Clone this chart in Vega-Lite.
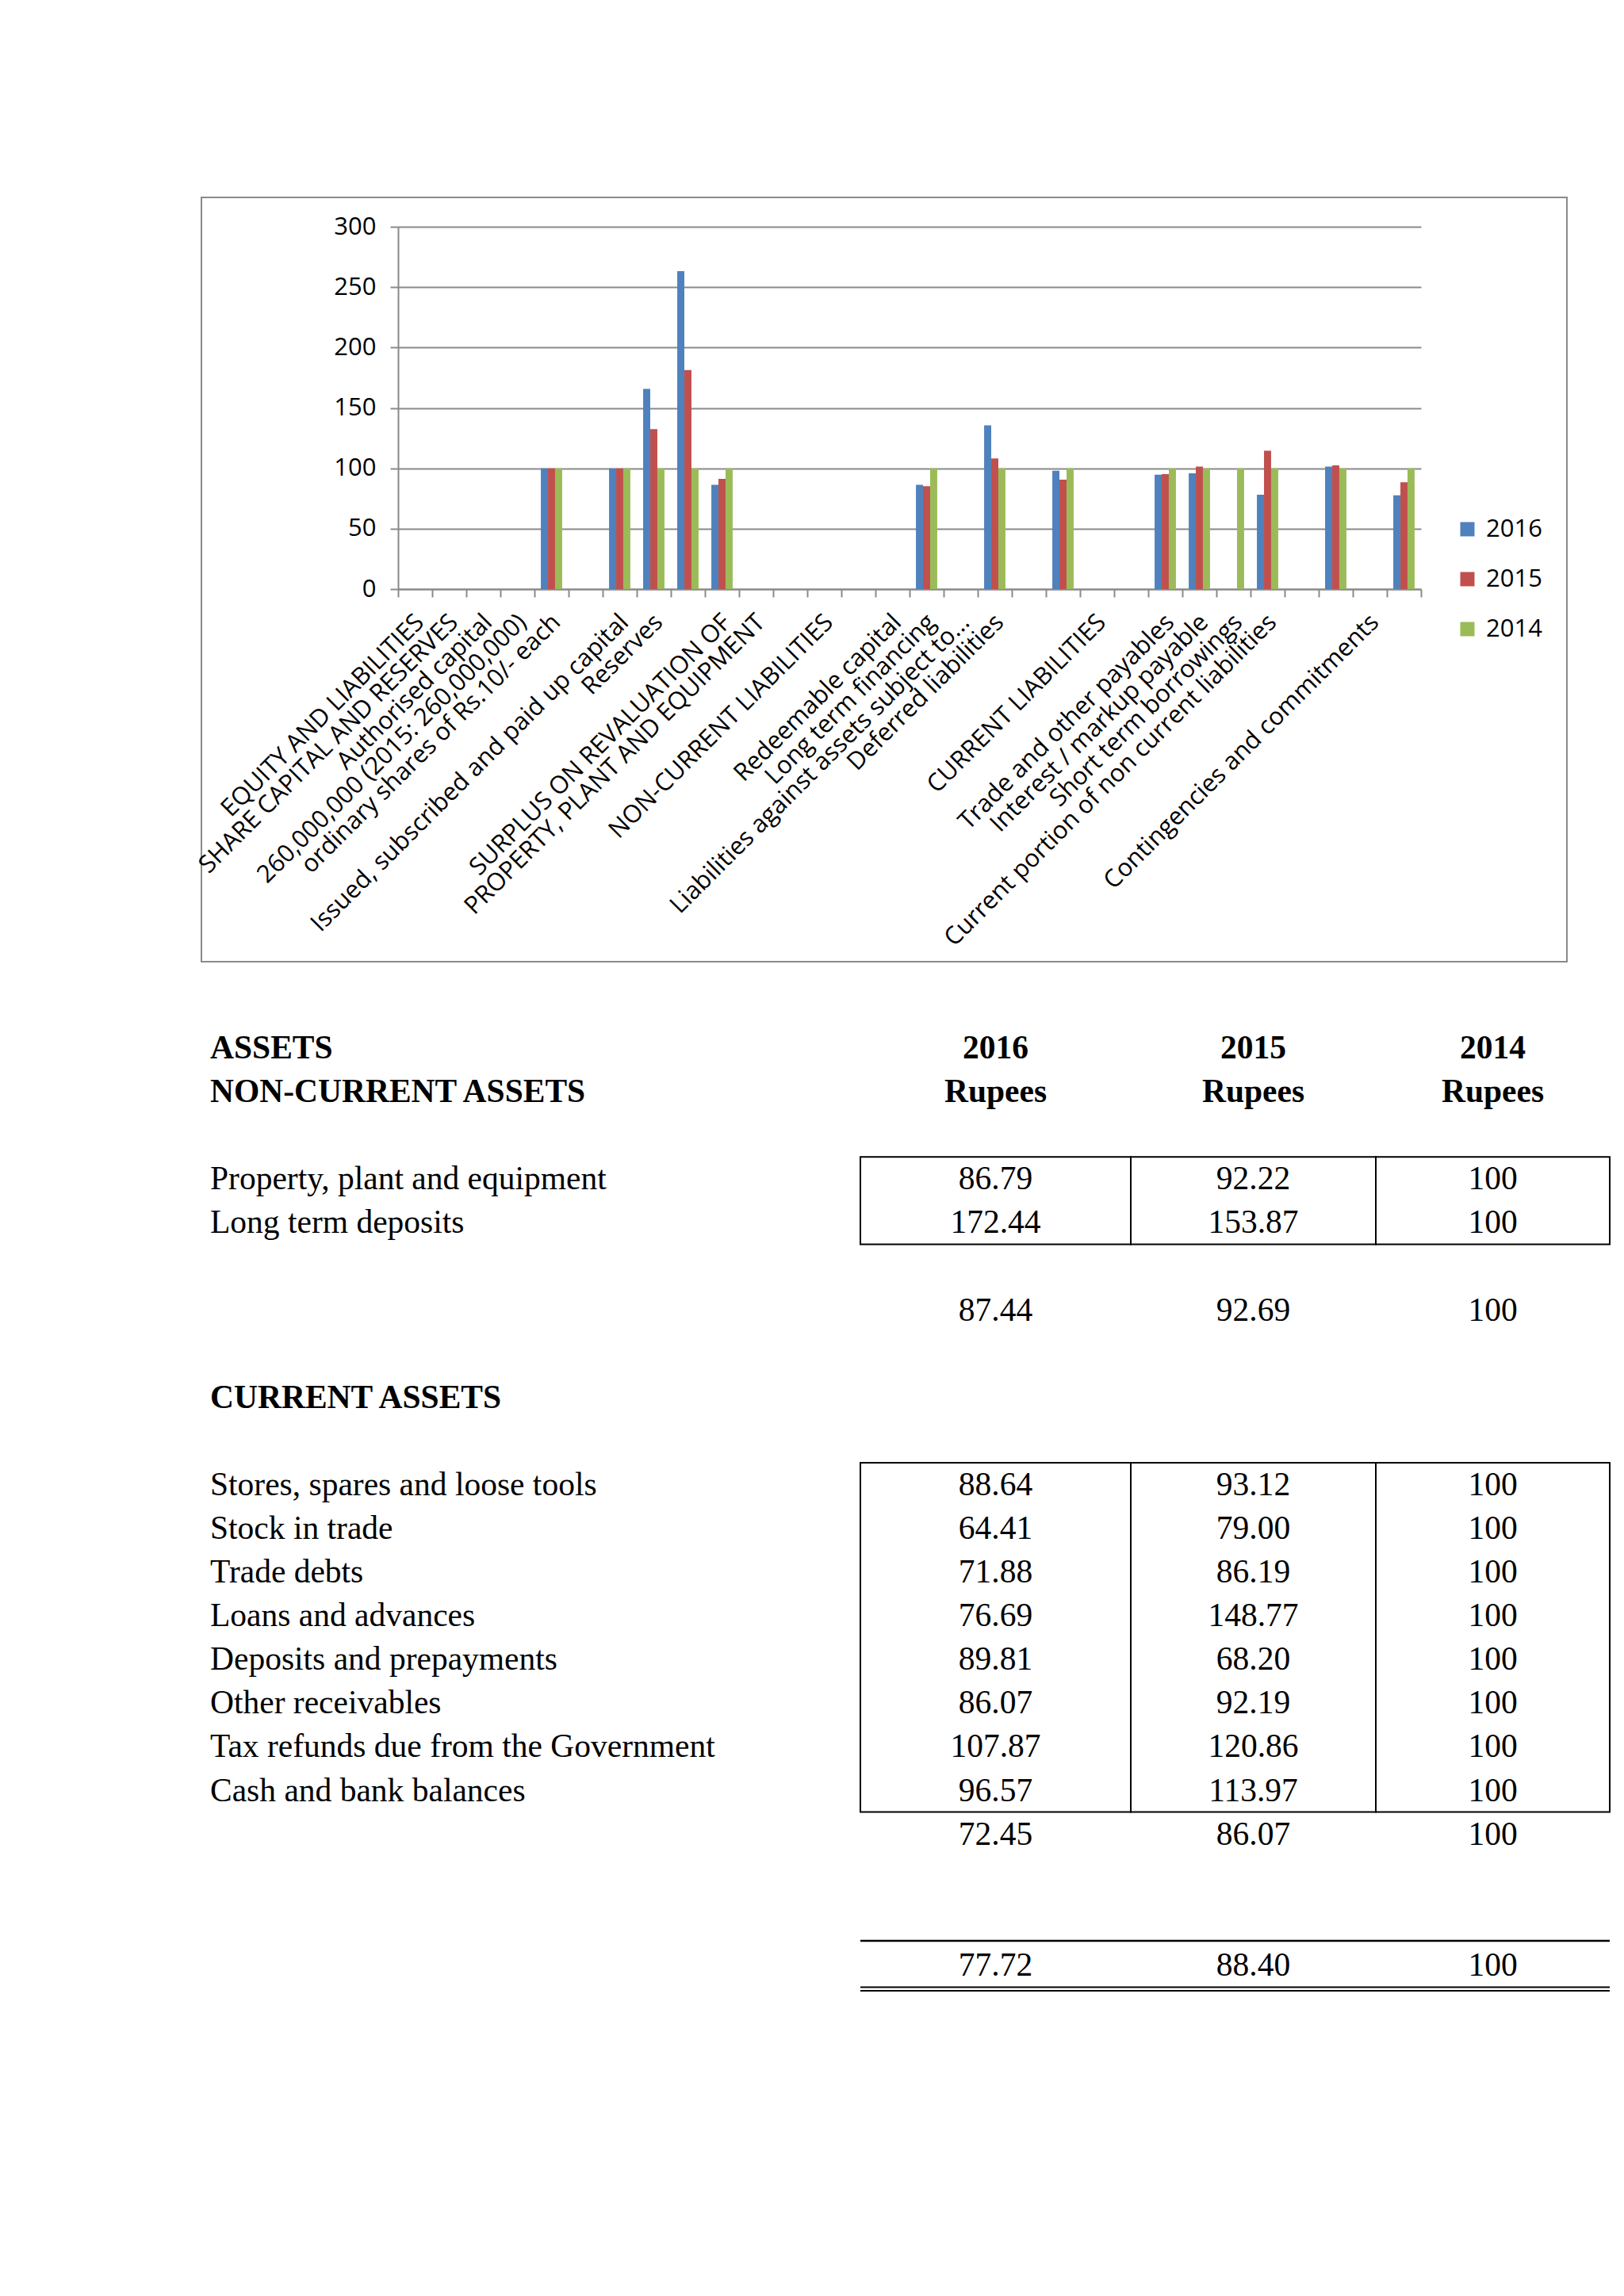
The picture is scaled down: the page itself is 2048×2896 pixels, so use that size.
{
  "$schema": "https://vega.github.io/schema/vega-lite/v6.json",
  "background": "white",
  "padding": {"left": 241, "top": 248, "right": 0, "bottom": 0},
  "bounds": "flush",
  "spacing": 77,
  "config": {"view": {"stroke": null}, "font": "Open Sans"},
  "datasets": {
    "bars": [
      {"item": "ordinary shares of Rs.10/- each", "year": "2016", "value": 100},
      {"item": "ordinary shares of Rs.10/- each", "year": "2015", "value": 100},
      {"item": "ordinary shares of Rs.10/- each", "year": "2014", "value": 100},
      {"item": "Issued, subscribed and paid up capital", "year": "2016", "value": 100},
      {"item": "Issued, subscribed and paid up capital", "year": "2015", "value": 100},
      {"item": "Issued, subscribed and paid up capital", "year": "2014", "value": 100},
      {"item": "Reserves", "year": "2016", "value": 165.8},
      {"item": "Reserves", "year": "2015", "value": 132.5},
      {"item": "Reserves", "year": "2014", "value": 100},
      {"item": "  ", "year": "2016", "value": 263.2},
      {"item": "  ", "year": "2015", "value": 181.3},
      {"item": "  ", "year": "2014", "value": 100},
      {"item": "SURPLUS ON REVALUATION OF", "year": "2016", "value": 86.3},
      {"item": "SURPLUS ON REVALUATION OF", "year": "2015", "value": 91.3},
      {"item": "SURPLUS ON REVALUATION OF", "year": "2014", "value": 100},
      {"item": "Long term financing", "year": "2016", "value": 86.4},
      {"item": "Long term financing", "year": "2015", "value": 85.1},
      {"item": "Long term financing", "year": "2014", "value": 100},
      {"item": "Deferred liabilities", "year": "2016", "value": 135.5},
      {"item": "Deferred liabilities", "year": "2015", "value": 108.1},
      {"item": "Deferred liabilities", "year": "2014", "value": 100},
      {"item": "      ", "year": "2016", "value": 98.0},
      {"item": "      ", "year": "2015", "value": 90.6},
      {"item": "      ", "year": "2014", "value": 100},
      {"item": "Trade and other payables", "year": "2016", "value": 94.7},
      {"item": "Trade and other payables", "year": "2015", "value": 95.2},
      {"item": "Trade and other payables", "year": "2014", "value": 100},
      {"item": "Interest / markup payable", "year": "2016", "value": 95.8},
      {"item": "Interest / markup payable", "year": "2015", "value": 101.5},
      {"item": "Interest / markup payable", "year": "2014", "value": 100},
      {"item": "Short term borrowings", "year": "2014", "value": 100},
      {"item": "Current portion of non current liabilities", "year": "2016", "value": 78.1},
      {"item": "Current portion of non current liabilities", "year": "2015", "value": 114.5},
      {"item": "Current portion of non current liabilities", "year": "2014", "value": 100},
      {"item": "         ", "year": "2016", "value": 101.5},
      {"item": "         ", "year": "2015", "value": 102.4},
      {"item": "         ", "year": "2014", "value": 100},
      {"item": "          ", "year": "2016", "value": 77.6},
      {"item": "          ", "year": "2015", "value": 88.4},
      {"item": "          ", "year": "2014", "value": 100}
    ],
    "table": [
      {"line": 0, "col": "label", "text": "ASSETS", "bold": true},
      {"line": 0, "col": "2016", "text": "2016", "bold": true},
      {"line": 0, "col": "2015", "text": "2015", "bold": true},
      {"line": 0, "col": "2014", "text": "2014", "bold": true},
      {"line": 1, "col": "label", "text": "NON-CURRENT ASSETS", "bold": true},
      {"line": 1, "col": "2016", "text": "Rupees", "bold": true},
      {"line": 1, "col": "2015", "text": "Rupees", "bold": true},
      {"line": 1, "col": "2014", "text": "Rupees", "bold": true},
      {"line": 3, "col": "label", "text": "Property, plant and equipment", "bold": false, "section": "non-current"},
      {"line": 3, "col": "2016", "text": "86.79", "bold": false, "section": "non-current"},
      {"line": 3, "col": "2015", "text": "92.22", "bold": false, "section": "non-current"},
      {"line": 3, "col": "2014", "text": "100", "bold": false, "section": "non-current"},
      {"line": 4, "col": "label", "text": "Long term deposits", "bold": false, "section": "non-current"},
      {"line": 4, "col": "2016", "text": "172.44", "bold": false, "section": "non-current"},
      {"line": 4, "col": "2015", "text": "153.87", "bold": false, "section": "non-current"},
      {"line": 4, "col": "2014", "text": "100", "bold": false, "section": "non-current"},
      {"line": 6, "col": "2016", "text": "87.44", "bold": false},
      {"line": 6, "col": "2015", "text": "92.69", "bold": false},
      {"line": 6, "col": "2014", "text": "100", "bold": false},
      {"line": 8, "col": "label", "text": "CURRENT ASSETS", "bold": true},
      {"line": 10, "col": "label", "text": "Stores, spares and loose tools", "bold": false, "section": "current"},
      {"line": 10, "col": "2016", "text": "88.64", "bold": false, "section": "current"},
      {"line": 10, "col": "2015", "text": "93.12", "bold": false, "section": "current"},
      {"line": 10, "col": "2014", "text": "100", "bold": false, "section": "current"},
      {"line": 11, "col": "label", "text": "Stock in trade", "bold": false, "section": "current"},
      {"line": 11, "col": "2016", "text": "64.41", "bold": false, "section": "current"},
      {"line": 11, "col": "2015", "text": "79.00", "bold": false, "section": "current"},
      {"line": 11, "col": "2014", "text": "100", "bold": false, "section": "current"},
      {"line": 12, "col": "label", "text": "Trade debts", "bold": false, "section": "current"},
      {"line": 12, "col": "2016", "text": "71.88", "bold": false, "section": "current"},
      {"line": 12, "col": "2015", "text": "86.19", "bold": false, "section": "current"},
      {"line": 12, "col": "2014", "text": "100", "bold": false, "section": "current"},
      {"line": 13, "col": "label", "text": "Loans and advances", "bold": false, "section": "current"},
      {"line": 13, "col": "2016", "text": "76.69", "bold": false, "section": "current"},
      {"line": 13, "col": "2015", "text": "148.77", "bold": false, "section": "current"},
      {"line": 13, "col": "2014", "text": "100", "bold": false, "section": "current"},
      {"line": 14, "col": "label", "text": "Deposits and prepayments", "bold": false, "section": "current"},
      {"line": 14, "col": "2016", "text": "89.81", "bold": false, "section": "current"},
      {"line": 14, "col": "2015", "text": "68.20", "bold": false, "section": "current"},
      {"line": 14, "col": "2014", "text": "100", "bold": false, "section": "current"},
      {"line": 15, "col": "label", "text": "Other receivables", "bold": false, "section": "current"},
      {"line": 15, "col": "2016", "text": "86.07", "bold": false, "section": "current"},
      {"line": 15, "col": "2015", "text": "92.19", "bold": false, "section": "current"},
      {"line": 15, "col": "2014", "text": "100", "bold": false, "section": "current"},
      {"line": 16, "col": "label", "text": "Tax refunds due from the Government", "bold": false, "section": "current"},
      {"line": 16, "col": "2016", "text": "107.87", "bold": false, "section": "current"},
      {"line": 16, "col": "2015", "text": "120.86", "bold": false, "section": "current"},
      {"line": 16, "col": "2014", "text": "100", "bold": false, "section": "current"},
      {"line": 17, "col": "label", "text": "Cash and bank balances", "bold": false, "section": "current"},
      {"line": 17, "col": "2016", "text": "96.57", "bold": false, "section": "current"},
      {"line": 17, "col": "2015", "text": "113.97", "bold": false, "section": "current"},
      {"line": 17, "col": "2014", "text": "100", "bold": false, "section": "current"},
      {"line": 18, "col": "2016", "text": "72.45", "bold": false},
      {"line": 18, "col": "2015", "text": "86.07", "bold": false},
      {"line": 18, "col": "2014", "text": "100", "bold": false},
      {"line": 21, "col": "2016", "text": "77.72", "bold": false, "total": true},
      {"line": 21, "col": "2015", "text": "88.40", "bold": false, "total": true},
      {"line": 21, "col": "2014", "text": "100", "bold": false, "total": true}
    ]
  },
  "vconcat": [
    {
      "width": 1722,
      "height": 964,
      "view": {"stroke": "#8a8a8a", "strokeWidth": 2},
      "data": {"name": "bars"},
      "mark": {"type": "bar"},
      "encoding": {
        "x": {
          "field": "item",
          "type": "nominal",
          "sort": null,
          "scale": {
            "domain": ["EQUITY AND LIABILITIES", "SHARE CAPITAL AND RESERVES", "Authorised capital", "260,000,000 (2015: 260,000,000)", "ordinary shares of Rs.10/- each", " ", "Issued, subscribed and paid up capital", "Reserves", "  ", "SURPLUS ON REVALUATION OF", "PROPERTY, PLANT AND EQUIPMENT", "   ", "NON-CURRENT LIABILITIES", "    ", "Redeemable capital", "Long term financing", "Liabilities against assets subject to...", "Deferred liabilities", "     ", "      ", "CURRENT LIABILITIES", "       ", "Trade and other payables", "Interest / markup payable", "Short term borrowings", "Current portion of non current liabilities", "        ", "         ", "Contingencies and commitments", "          "],
            "range": [248, 1538],
            "paddingInner": 0,
            "paddingOuter": 0
          },
          "axis": {
            "orient": "bottom",
            "offset": -470,
            "title": null,
            "grid": false,
            "labelAngle": -45,
            "labelAlign": "right",
            "labelBaseline": "middle",
            "labelFont": "Open Sans",
            "labelFontSize": 31,
            "labelColor": "black",
            "labelLimit": 0,
            "labelPadding": 27,
            "labelOffset": 6,
            "labelOverlap": false,
            "tickBand": "extent",
            "tickSize": 10,
            "tickWidth": 2,
            "tickColor": "#8a8a8a",
            "domainColor": "#8a8a8a",
            "domainWidth": 2
          }
        },
        "xOffset": {
          "field": "year",
          "type": "nominal",
          "scale": {"domain": ["2016", "2015", "2014"], "paddingInner": 0, "paddingOuter": 0.9}
        },
        "y": {
          "field": "value",
          "type": "quantitative",
          "scale": {"domain": [0, 300], "range": [494, 37], "nice": false, "zero": true},
          "axis": {
            "orient": "left",
            "offset": -248,
            "title": null,
            "values": [0, 50, 100, 150, 200, 250, 300],
            "grid": true,
            "gridColor": "#8a8a8a",
            "gridWidth": 2,
            "domainColor": "#8a8a8a",
            "domainWidth": 2,
            "tickColor": "#8a8a8a",
            "tickWidth": 2,
            "tickSize": 10,
            "labelFont": "Open Sans",
            "labelFontSize": 31,
            "labelColor": "black",
            "labelPadding": 18
          }
        },
        "color": {
          "field": "year",
          "type": "nominal",
          "scale": {"domain": ["2016", "2015", "2014"], "range": ["#4F81BD", "#C0504D", "#9BBB59"]},
          "legend": {
            "orient": "none",
            "legendX": 1581,
            "legendY": 403,
            "title": null,
            "direction": "vertical",
            "symbolType": "square",
            "symbolSize": 324,
            "symbolStrokeWidth": 0,
            "labelFont": "Open Sans",
            "labelFontSize": 31,
            "labelColor": "black",
            "labelOffset": 8,
            "rowPadding": 31
          }
        }
      }
    },
    {
      "hconcat": [
        {
          "width": 831,
          "height": 1245,
          "view": {"stroke": null},
          "data": {"name": "table"},
          "layer": [
            {
              "transform": [{"filter": "datum.col === 'label' && datum.bold"}],
              "mark": {"type": "text", "font": "Liberation Serif", "fontSize": 41.5, "fontWeight": "bold", "align": "left", "x": 0, "dx": 11, "color": "black"},
              "encoding": {
                "y": {"field": "line", "type": "quantitative", "scale": {"domain": [-0.6, 22], "reverse": true, "nice": false, "zero": false}, "axis": null},
                "text": {"field": "text"}
              }
            },
            {
              "transform": [{"filter": "datum.col === 'label' && !datum.bold"}],
              "mark": {"type": "text", "font": "Liberation Serif", "fontSize": 41.5, "align": "left", "x": 0, "dx": 11, "color": "black"},
              "encoding": {
                "y": {"field": "line", "type": "quantitative", "scale": {"domain": [-0.6, 22], "reverse": true, "nice": false, "zero": false}, "axis": null},
                "text": {"field": "text"}
              }
            }
          ]
        },
        {
          "width": 341,
          "height": 1245,
          "view": {"stroke": null},
          "data": {"name": "table"},
          "transform": [{"filter": "datum.col === '2016'"}],
          "layer": [
            {
              "transform": [{"filter": "datum.bold"}],
              "mark": {"type": "text", "font": "Liberation Serif", "fontSize": 41.5, "fontWeight": "bold", "color": "black"},
              "encoding": {"y": {"field": "line", "type": "quantitative", "scale": {"domain": [-0.6, 22], "reverse": true, "nice": false, "zero": false}, "axis": null}, "text": {"field": "text"}}
            },
            {
              "transform": [{"filter": "!datum.bold"}],
              "mark": {"type": "text", "font": "Liberation Serif", "fontSize": 41.5, "color": "black"},
              "encoding": {"y": {"field": "line", "type": "quantitative"}, "text": {"field": "text"}}
            },
            {
              "transform": [{"filter": "datum.section"}, {"aggregate": [{"op": "min", "field": "line", "as": "first"}, {"op": "max", "field": "line", "as": "last"}], "groupby": ["section"]}],
              "mark": {"type": "rect", "fillOpacity": 0, "stroke": "black", "strokeWidth": 2, "yOffset": -29, "y2Offset": 26},
              "encoding": {"y": {"field": "first", "type": "quantitative"}, "y2": {"field": "last"}}
            },
            {
              "transform": [{"filter": "datum.total"}],
              "mark": {"type": "rule", "color": "black", "strokeWidth": 2.5, "yOffset": -32},
              "encoding": {"y": {"field": "line", "type": "quantitative"}}
            },
            {
              "transform": [{"filter": "datum.total"}],
              "mark": {"type": "rule", "color": "black", "strokeWidth": 2, "yOffset": 26.5},
              "encoding": {"y": {"field": "line", "type": "quantitative"}}
            },
            {
              "transform": [{"filter": "datum.total"}],
              "mark": {"type": "rule", "color": "black", "strokeWidth": 2, "yOffset": 31},
              "encoding": {"y": {"field": "line", "type": "quantitative"}}
            }
          ]
        },
        {
          "width": 309,
          "height": 1245,
          "view": {"stroke": null},
          "data": {"name": "table"},
          "transform": [{"filter": "datum.col === '2015'"}],
          "layer": [
            {
              "transform": [{"filter": "datum.bold"}],
              "mark": {"type": "text", "font": "Liberation Serif", "fontSize": 41.5, "fontWeight": "bold", "color": "black"},
              "encoding": {"y": {"field": "line", "type": "quantitative", "scale": {"domain": [-0.6, 22], "reverse": true, "nice": false, "zero": false}, "axis": null}, "text": {"field": "text"}}
            },
            {
              "transform": [{"filter": "!datum.bold"}],
              "mark": {"type": "text", "font": "Liberation Serif", "fontSize": 41.5, "color": "black"},
              "encoding": {"y": {"field": "line", "type": "quantitative"}, "text": {"field": "text"}}
            },
            {
              "transform": [{"filter": "datum.section"}, {"aggregate": [{"op": "min", "field": "line", "as": "first"}, {"op": "max", "field": "line", "as": "last"}], "groupby": ["section"]}],
              "mark": {"type": "rect", "fillOpacity": 0, "stroke": "black", "strokeWidth": 2, "yOffset": -29, "y2Offset": 26},
              "encoding": {"y": {"field": "first", "type": "quantitative"}, "y2": {"field": "last"}}
            },
            {
              "transform": [{"filter": "datum.total"}],
              "mark": {"type": "rule", "color": "black", "strokeWidth": 2.5, "yOffset": -32},
              "encoding": {"y": {"field": "line", "type": "quantitative"}}
            },
            {
              "transform": [{"filter": "datum.total"}],
              "mark": {"type": "rule", "color": "black", "strokeWidth": 2, "yOffset": 26.5},
              "encoding": {"y": {"field": "line", "type": "quantitative"}}
            },
            {
              "transform": [{"filter": "datum.total"}],
              "mark": {"type": "rule", "color": "black", "strokeWidth": 2, "yOffset": 31},
              "encoding": {"y": {"field": "line", "type": "quantitative"}}
            }
          ]
        },
        {
          "width": 295,
          "height": 1245,
          "view": {"stroke": null},
          "data": {"name": "table"},
          "transform": [{"filter": "datum.col === '2014'"}],
          "layer": [
            {
              "transform": [{"filter": "datum.bold"}],
              "mark": {"type": "text", "font": "Liberation Serif", "fontSize": 41.5, "fontWeight": "bold", "color": "black"},
              "encoding": {"y": {"field": "line", "type": "quantitative", "scale": {"domain": [-0.6, 22], "reverse": true, "nice": false, "zero": false}, "axis": null}, "text": {"field": "text"}}
            },
            {
              "transform": [{"filter": "!datum.bold"}],
              "mark": {"type": "text", "font": "Liberation Serif", "fontSize": 41.5, "color": "black"},
              "encoding": {"y": {"field": "line", "type": "quantitative"}, "text": {"field": "text"}}
            },
            {
              "transform": [{"filter": "datum.section"}, {"aggregate": [{"op": "min", "field": "line", "as": "first"}, {"op": "max", "field": "line", "as": "last"}], "groupby": ["section"]}],
              "mark": {"type": "rect", "fillOpacity": 0, "stroke": "black", "strokeWidth": 2, "yOffset": -29, "y2Offset": 26},
              "encoding": {"y": {"field": "first", "type": "quantitative"}, "y2": {"field": "last"}}
            },
            {
              "transform": [{"filter": "datum.total"}],
              "mark": {"type": "rule", "color": "black", "strokeWidth": 2.5, "yOffset": -32},
              "encoding": {"y": {"field": "line", "type": "quantitative"}}
            },
            {
              "transform": [{"filter": "datum.total"}],
              "mark": {"type": "rule", "color": "black", "strokeWidth": 2, "yOffset": 26.5},
              "encoding": {"y": {"field": "line", "type": "quantitative"}}
            },
            {
              "transform": [{"filter": "datum.total"}],
              "mark": {"type": "rule", "color": "black", "strokeWidth": 2, "yOffset": 31},
              "encoding": {"y": {"field": "line", "type": "quantitative"}}
            }
          ]
        }
      ],
      "spacing": 0,
      "bounds": "flush"
    }
  ]
}
